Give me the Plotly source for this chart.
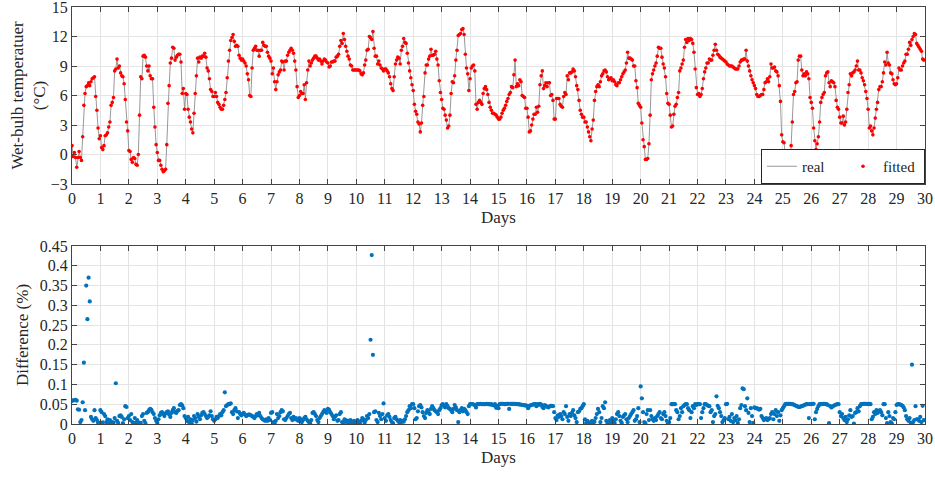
import numpy as np
import plotly.graph_objects as go

# hourly wet-bulb temperature (°C), one line per day
wet_bulb = [
    0.9, -0.2, 0.2, -0.3, -1.3, -0.3, 0.3, -0.3, -0.6, 1.8, 5.0, 6.2, 6.9, 7.0, 7.3, 7.0, 7.4, 7.7, 7.8, 7.9, 5.9, 4.5, 2.7, 1.6,
    1.9, 0.7, 0.5, 0.9, 1.9, 2.0, 2.2, 2.8, 3.3, 5.0, 5.3, 5.8, 8.5, 8.7, 9.7, 8.8, 9.0, 8.3, 8.0, 7.9, 7.2, 5.6, 3.3, 2.4,
    0.4, 0.3, -0.5, -0.8, -0.3, -0.4, -1.0, -1.1, 0.0, 4.0, 7.9, 7.7, 10.0, 10.1, 9.9, 9.0, 8.5, 9.0, 8.0, 7.7, 7.7, 4.8, 2.8, 1.0,
    0.2, -0.6, -0.6, -1.1, -1.5, -1.75, -1.65, -1.5, 1.0, 5.2, 7.0, 9.3, 9.8, 10.9, 10.8, 9.6, 9.9, 10.1, 10.2, 10.2, 9.4, 6.2, 6.7, 4.6,
    6.2, 6.1, 4.6, 3.8, 3.3, 2.6, 2.2, 4.2, 6.2, 8.0, 9.8, 9.4, 9.9, 9.8, 10.0, 10.0, 10.3, 9.9, 8.8, 8.5, 7.7, 6.6, 6.4, 5.9,
    5.9, 6.3, 5.9, 5.3, 5.1, 4.8, 4.6, 4.6, 5.0, 5.6, 6.3, 7.8, 9.5, 10.6, 11.6, 11.9, 12.2, 11.5, 11.0, 11.1, 11.0, 10.1, 9.8, 9.6,
    9.7, 9.5, 9.3, 9.0, 8.2, 7.6, 6.0, 5.9, 8.8, 10.6, 10.8, 11.0, 10.6, 10.6, 10.0, 10.6, 10.6, 11.4, 11.1, 11.0, 11.0, 10.4, 10.0, 9.8,
    9.5, 8.2, 8.8, 7.4, 6.6, 7.4, 8.1, 8.4, 8.6, 9.5, 9.4, 8.6, 9.5, 9.5, 10.1, 10.4, 10.6, 10.8, 10.6, 10.3, 9.5, 8.6, 6.9, 5.8,
    6.0, 6.4, 6.2, 6.2, 7.1, 5.6, 7.3, 8.6, 9.5, 9.0, 9.3, 9.6, 9.8, 10.0, 10.0, 9.8, 9.6, 9.7, 9.5, 9.2, 9.5, 9.7, 9.6, 9.4,
    9.3, 8.9, 9.0, 9.4, 9.4, 9.5, 9.5, 9.9, 10.0, 10.2, 11.0, 11.6, 11.3, 12.3, 11.7, 11.0, 10.5, 10.0, 9.7, 9.1, 9.0, 8.6, 8.6, 8.6,
    8.6, 8.6, 8.6, 8.5, 8.2, 8.1, 8.3, 9.1, 9.6, 10.6, 10.7, 12.0, 11.9, 11.7, 12.5, 10.8, 10.0, 10.0, 9.2, 9.5, 9.1, 8.8, 8.7, 8.5,
    8.7, 8.7, 8.5, 8.3, 7.9, 7.2, 6.7, 6.5, 7.9, 9.2, 9.6, 9.9, 9.8, 9.2, 10.6, 11.0, 11.8, 11.4, 11.3, 10.3, 9.3, 8.5, 7.8, 7.1,
    6.5, 5.1, 4.4, 4.1, 3.3, 3.1, 2.3, 3.2, 5.0, 5.9, 8.3, 9.1, 9.1, 9.7, 10.0, 10.7, 10.1, 10.1, 10.2, 10.5, 9.7, 9.1, 7.5, 6.3,
    5.6, 4.7, 4.6, 4.0, 3.5, 2.7, 2.9, 4.0, 6.2, 7.4, 7.3, 8.0, 9.6, 10.6, 12.1, 12.2, 12.3, 12.7, 12.8, 12.2, 10.2, 8.8, 8.2, 6.5,
    7.7, 8.8, 9.0, 9.1, 8.5, 5.1, 4.6, 5.3, 5.5, 5.3, 5.1, 6.2, 6.7, 6.9, 6.6, 6.1, 5.3, 4.8, 4.5, 4.2, 4.2, 4.1, 4.0, 3.8,
    3.6, 3.6, 3.8, 4.2, 4.5, 4.7, 5.0, 5.4, 5.7, 6.1, 6.3, 6.9, 6.8, 8.1, 9.6, 6.9, 7.2, 7.0, 7.6, 7.4, 6.0, 5.9, 5.8, 4.7,
    4.7, 3.8, 2.3, 2.4, 3.0, 3.6, 4.1, 4.1, 4.8, 4.3, 4.9, 7.1, 8.0, 8.5, 6.7, 7.0, 7.3, 6.9, 7.3, 7.3, 6.0, 6.1, 5.5, 3.6,
    3.6, 5.7, 5.7, 5.7, 5.1, 4.9, 4.8, 5.9, 6.3, 6.1, 8.0, 7.6, 8.3, 8.3, 8.4, 8.7, 8.5, 7.9, 7.0, 6.6, 5.5, 4.5, 4.1, 3.8,
    3.8, 3.3, 3.3, 2.8, 2.3, 1.8, 1.4, 2.6, 3.5, 5.5, 6.4, 6.9, 7.1, 6.9, 7.4, 8.0, 8.2, 8.5, 8.6, 8.4, 7.9, 7.6, 7.7, 7.8,
    7.5, 7.6, 7.4, 7.1, 7.0, 7.3, 7.3, 7.6, 7.9, 8.2, 8.4, 8.6, 9.3, 10.4, 9.8, 9.8, 9.7, 9.6, 9.0, 9.0, 7.5, 6.8, 5.2, 5.0,
    4.8, 3.2, 1.5, 0.8, -0.5, -0.5, -0.4, 1.1, 4.0, 7.6, 8.2, 8.6, 9.0, 9.3, 10.0, 10.9, 10.8, 10.8, 9.9, 9.2, 8.8, 7.9, 6.2, 5.2,
    5.1, 4.0, 2.8, 2.9, 4.1, 4.9, 5.1, 5.8, 6.3, 8.5, 8.8, 9.2, 9.6, 10.9, 11.7, 11.4, 11.8, 11.6, 11.8, 11.7, 11.3, 10.4, 8.7, 6.8,
    6.1, 6.2, 5.9, 6.1, 6.7, 7.7, 8.4, 8.8, 9.3, 9.3, 9.7, 9.6, 9.6, 10.1, 10.6, 11.2, 10.6, 10.2, 10.1, 9.9, 9.8, 9.7, 9.6, 9.5,
    9.4, 9.2, 9.1, 9.0, 9.0, 9.0, 8.9, 8.8, 8.7, 8.7, 8.7, 9.0, 9.4, 9.6, 9.6, 9.7, 9.7, 10.6, 9.5, 9.0, 8.5, 8.0, 7.6, 7.3,
    7.0, 6.7, 6.1, 5.9, 5.9, 6.0, 6.1, 6.1, 6.6, 7.3, 7.4, 7.7, 7.4, 7.9, 9.2, 8.8, 8.8, 8.9, 8.5, 8.4, 8.0, 7.0, 5.4, 2.0,
    1.3, 1.2, 0.2, -0.1, -0.3, -0.5, -0.7, 0.9, 3.3, 6.1, 6.4, 7.3, 7.4, 9.6, 10.0, 10.0, 8.6, 8.0, 8.2, 8.0, 8.4, 8.2, 7.7, 5.8,
    5.3, 4.7, 2.7, 1.4, 0.5, 1.1, 1.8, 3.3, 5.3, 5.8, 6.1, 6.3, 8.0, 8.3, 8.4, 7.3, 6.9, 7.5, 7.4, 7.3, 6.9, 5.5, 4.8, 4.6,
    3.8, 3.2, 3.2, 3.9, 3.0, 3.3, 4.6, 6.3, 7.1, 8.2, 8.0, 8.3, 8.4, 8.6, 9.0, 9.5, 8.6, 8.6, 8.3, 7.8, 7.5, 7.1, 6.4, 5.7,
    4.6, 2.7, 2.9, 2.4, 2.0, 2.7, 3.7, 4.6, 5.3, 6.6, 6.9, 6.9, 7.4, 8.3, 9.4, 9.1, 10.4, 9.3, 9.1, 8.3, 8.2, 7.6, 7.2, 7.1,
    7.2, 7.8, 8.8, 8.6, 8.6, 9.0, 9.3, 9.5, 10.2, 10.2, 10.7, 11.4, 11.1, 11.7, 12.0, 12.3, 12.2, 11.3, 11.1, 10.9, 10.7, 10.5, 9.7, 9.6,
]

# hourly difference between real and fitted (%), one line per day
difference = [
    0.058, 0.060, 0.060, 0.061, 0.059, 0.037, 0.036, 0.005, 0.010, 0.055, 0.155, 0.035, 0.350, 0.265, 0.370, 0.310, 0.018, 0.012, 0.008, 0.035, 0.015, 0.010, 0.004, 0.003,
    0.035, 0.030, 0.004, 0.025, 0.020, 0.005, 0.012, 0.002, 0.010, 0.006, 0.001, 0.004, 0.015, 0.103, 0.008, 0.003, 0.020, 0.022, 0.018, 0.002, 0.012, 0.045, 0.043, 0.015,
    0.020, 0.010, 0.025, 0.005, 0.002, 0.015, 0.003, 0.010, 0.004, 0.001, 0.003, 0.020, 0.025, 0.008, 0.002, 0.028, 0.030, 0.035, 0.038, 0.036, 0.030, 0.025, 0.015, 0.008,
    0.003, 0.012, 0.022, 0.028, 0.030, 0.025, 0.020, 0.027, 0.030, 0.032, 0.024, 0.018, 0.028, 0.035, 0.040, 0.030, 0.028, 0.033, 0.035, 0.048, 0.050, 0.047, 0.040, 0.020,
    0.015, 0.008, 0.018, 0.004, 0.012, 0.002, 0.010, 0.020, 0.015, 0.006, 0.025, 0.018, 0.012, 0.022, 0.028, 0.030, 0.025, 0.020, 0.015, 0.018, 0.022, 0.032, 0.020, 0.012,
    0.008, 0.012, 0.018, 0.015, 0.020, 0.025, 0.022, 0.030, 0.035, 0.080, 0.045, 0.048, 0.050, 0.050, 0.052, 0.030, 0.025, 0.035, 0.040, 0.032, 0.015, 0.030, 0.025, 0.022,
    0.025, 0.028, 0.024, 0.020, 0.022, 0.024, 0.024, 0.022, 0.020, 0.018, 0.015, 0.020, 0.025, 0.022, 0.028, 0.020, 0.015, 0.012, 0.010, 0.008, 0.012, 0.008, 0.015, 0.010,
    0.028, 0.030, 0.005, 0.001, 0.008, 0.025, 0.015, 0.020, 0.030, 0.035, 0.032, 0.012, 0.010, 0.015, 0.020, 0.025, 0.028, 0.015, 0.010, 0.018, 0.012, 0.015, 0.010, 0.008,
    0.015, 0.012, 0.005, 0.010, 0.015, 0.018, 0.012, 0.008, 0.005, 0.002, 0.010, 0.028, 0.030, 0.025, 0.020, 0.010, 0.005, 0.015, 0.020, 0.025, 0.030, 0.035, 0.032, 0.028,
    0.038, 0.036, 0.030, 0.025, 0.020, 0.012, 0.018, 0.022, 0.008, 0.010, 0.025, 0.030, 0.005, 0.002, 0.012, 0.010, 0.005, 0.008, 0.003, 0.010, 0.005, 0.002, 0.008, 0.004,
    0.003, 0.010, 0.005, 0.001, 0.008, 0.015, 0.012, 0.004, 0.010, 0.020, 0.015, 0.025, 0.213, 0.427, 0.175, 0.030, 0.032, 0.010, 0.005, 0.028, 0.020, 0.012, 0.025, 0.052,
    0.015, 0.008, 0.022, 0.025, 0.018, 0.010, 0.005, 0.002, 0.015, 0.018, 0.012, 0.008, 0.005, 0.010, 0.005, 0.008, 0.006, 0.012, 0.020, 0.030, 0.035, 0.045, 0.040, 0.050,
    0.050, 0.040, 0.012, 0.015, 0.032, 0.045, 0.048, 0.042, 0.030, 0.020, 0.015, 0.028, 0.035, 0.030, 0.025, 0.038, 0.045, 0.040, 0.035, 0.032, 0.030, 0.025, 0.035, 0.040,
    0.048, 0.050, 0.045, 0.042, 0.050, 0.045, 0.040, 0.038, 0.035, 0.030, 0.038, 0.048, 0.042, 0.035, 0.005, 0.030, 0.035, 0.040, 0.032, 0.038, 0.035, 0.030, 0.025, 0.045,
    0.050, 0.050, 0.050, 0.049, 0.048, 0.042, 0.050, 0.050, 0.050, 0.051, 0.050, 0.050, 0.050, 0.050, 0.051, 0.050, 0.050, 0.049, 0.050, 0.048, 0.047, 0.050, 0.041, 0.046,
    0.040, 0.050, 0.051, 0.051, 0.051, 0.050, 0.050, 0.051, 0.051, 0.038, 0.051, 0.051, 0.051, 0.051, 0.051, 0.050, 0.050, 0.050, 0.049, 0.049, 0.048, 0.048, 0.047, 0.047,
    0.046, 0.040, 0.046, 0.047, 0.048, 0.049, 0.050, 0.050, 0.045, 0.050, 0.048, 0.051, 0.049, 0.043, 0.040, 0.048, 0.046, 0.044, 0.042, 0.044, 0.046, 0.046, 0.045, 0.030,
    0.015, 0.010, 0.022, 0.018, 0.025, 0.020, 0.012, 0.030, 0.025, 0.045, 0.018, 0.008, 0.025, 0.020, 0.028, 0.035, 0.022, 0.015, 0.005, 0.030, 0.032, 0.038, 0.040, 0.045,
    0.050, 0.012, 0.003, 0.008, 0.002, 0.003, 0.005, 0.008, 0.003, 0.006, 0.015, 0.025, 0.038, 0.030, 0.005, 0.015, 0.045, 0.040, 0.055, 0.008, 0.003, 0.002, 0.010, 0.005,
    0.015, 0.010, 0.003, 0.012, 0.025, 0.030, 0.020, 0.008, 0.003, 0.018, 0.022, 0.025, 0.012, 0.005, 0.015, 0.020, 0.025, 0.030, 0.035, 0.008, 0.012, 0.020, 0.040, 0.005,
    0.095, 0.065, 0.030, 0.005, 0.002, 0.025, 0.035, 0.010, 0.035, 0.020, 0.012, 0.008, 0.015, 0.010, 0.020, 0.025, 0.030, 0.015, 0.012, 0.025, 0.030, 0.020, 0.008, 0.002,
    0.005, 0.015, 0.050, 0.050, 0.050, 0.050, 0.035, 0.030, 0.012, 0.020, 0.040, 0.030, 0.045, 0.048, 0.050, 0.050, 0.040, 0.035, 0.015, 0.030, 0.045, 0.040, 0.050, 0.048,
    0.050, 0.050, 0.050, 0.015, 0.030, 0.040, 0.050, 0.050, 0.048, 0.046, 0.045, 0.030, 0.035, 0.005, 0.020, 0.025, 0.070, 0.046, 0.040, 0.030, 0.020, 0.005, 0.010, 0.015,
    0.050, 0.051, 0.012, 0.018, 0.008, 0.025, 0.005, 0.015, 0.010, 0.020, 0.003, 0.012, 0.040, 0.048, 0.090, 0.088, 0.045, 0.035, 0.065, 0.028, 0.005, 0.040, 0.020, 0.003,
    0.042, 0.040, 0.040, 0.038, 0.036, 0.038, 0.020, 0.015, 0.010, 0.012, 0.015, 0.010, 0.012, 0.015, 0.025, 0.030, 0.012, 0.025, 0.035, 0.020, 0.030, 0.008, 0.022, 0.035,
    0.040, 0.045, 0.050, 0.051, 0.051, 0.051, 0.051, 0.050, 0.050, 0.049, 0.048, 0.046, 0.045, 0.043, 0.043, 0.044, 0.045, 0.046, 0.048, 0.049, 0.050, 0.050, 0.015, 0.050,
    0.050, 0.051, 0.051, 0.012, 0.030, 0.038, 0.045, 0.050, 0.050, 0.050, 0.051, 0.051, 0.050, 0.050, 0.048, 0.002, 0.045, 0.042, 0.044, 0.046, 0.048, 0.049, 0.050, 0.050,
    0.030, 0.020, 0.025, 0.015, 0.010, 0.018, 0.005, 0.012, 0.022, 0.035, 0.018, 0.020, 0.001, 0.028, 0.030, 0.040, 0.032, 0.045, 0.050, 0.050, 0.051, 0.051, 0.051, 0.051,
    0.050, 0.051, 0.050, 0.012, 0.018, 0.030, 0.025, 0.035, 0.028, 0.032, 0.035, 0.030, 0.022, 0.050, 0.050, 0.015, 0.002, 0.030, 0.020, 0.005, 0.001, 0.015, 0.012, 0.030,
    0.048, 0.050, 0.050, 0.049, 0.048, 0.046, 0.042, 0.035, 0.020, 0.012, 0.008, 0.015, 0.003, 0.150, 0.005, 0.010, 0.045, 0.012, 0.012, 0.008, 0.018, 0.005, 0.046, 0.010,
]

day_ticks = list(range(0, 31))
temp_ticks = [-3, 0, 3, 6, 9, 12, 15]
diff_ticks = [0, 0.05, 0.1, 0.15, 0.2, 0.25, 0.3, 0.35, 0.4, 0.45]
diff_tick_labels = ["0", "0.05", "0.1", "0.15", "0.2", "0.25", "0.3", "0.35", "0.4", "0.45"]

t_days = np.arange(len(wet_bulb)) / 24
d_days = np.arange(len(difference)) / 24

FONT = "Liberation Serif, Times New Roman, serif"
AX = "#444444"

fig = go.Figure()
fig.add_trace(go.Scatter(x=t_days, y=wet_bulb, mode="lines", name="real",
                         line=dict(color="#8c8c8c", width=0.9), xaxis="x", yaxis="y"))
fig.add_trace(go.Scatter(x=t_days, y=wet_bulb, mode="markers", name="fitted",
                         marker=dict(color="#ff0000", size=3.6), xaxis="x", yaxis="y"))
fig.add_trace(go.Scatter(x=d_days, y=difference, mode="markers", showlegend=False,
                         marker=dict(color="#0072bd", size=4.2), xaxis="x2", yaxis="y2"))

axis_style = dict(
    showline=True, linecolor=AX, linewidth=1, mirror="allticks",
    ticks="inside", ticklen=5, tickcolor=AX, tickwidth=1,
    showgrid=True, gridcolor="#e4e4e4", gridwidth=1, zeroline=False,
    automargin=False, ticklabeloverflow="allow",
    tickfont=dict(family=FONT, size=16, color="#262626"),
    title_font=dict(family=FONT, size=17, color="#262626"),
)

top_lo = (424 - 184) / 417
bot_hi = (424 - 246) / 417

fig.update_layout(
    width=935, height=477,
    margin=dict(l=72, r=10, t=7, b=53),
    paper_bgcolor="white", plot_bgcolor="white",
    font=dict(family=FONT, size=16, color="#262626"),
    xaxis=dict(axis_style, domain=[0, 1], range=[0, 30], tickvals=day_ticks,
               anchor="y", title=dict(text="Days", standoff=4)),
    yaxis=dict(axis_style, domain=[top_lo, 1], range=[-3, 15], tickvals=temp_ticks,
               anchor="x", title=dict(text="Wet-bulb temperatuer<br>(°C)", standoff=0)),
    xaxis2=dict(axis_style, domain=[0, 1], range=[0, 30], tickvals=day_ticks,
                anchor="y2", title=dict(text="Days", standoff=4)),
    yaxis2=dict(axis_style, domain=[0, bot_hi], range=[0, 0.45], tickvals=diff_ticks,
                ticktext=diff_tick_labels, anchor="x2",
                title=dict(text="Difference (%)", standoff=6)),
    legend=dict(orientation="h", x=1, xanchor="right", y=top_lo, yanchor="bottom",
                bgcolor="white", bordercolor="#262626", borderwidth=1,
                font=dict(family=FONT, size=15, color="#262626"),
                itemwidth=30, entrywidth=36, tracegroupgap=0),
)

# page body has a default 8px margin; drop it so the figure sits at the window corner
fig.write_html("out.html", config={"displayModeBar": False},
               post_script="document.body.style.margin='0px';")
